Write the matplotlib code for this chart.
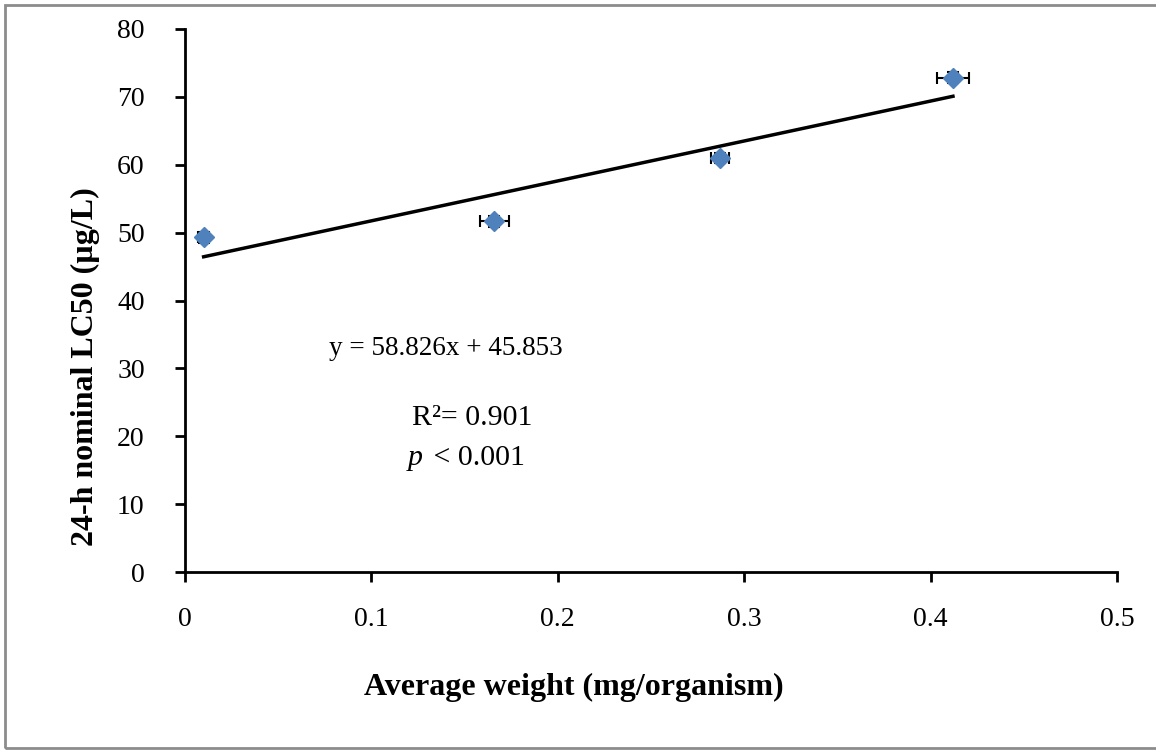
import numpy as np
import matplotlib.pyplot as plt
from matplotlib.patches import Rectangle

# data
weight = [0.010, 0.166, 0.287, 0.412]
lc50 = [49.3, 51.7, 61.0, 72.8]
weight_err = [0.003, 0.008, 0.005, 0.0085]
lc50_err = [0.8, 0.8, 0.8, 0.8]
slope, intercept = 58.826, 45.853

plt.rcParams['font.family'] = ['Liberation Serif', 'DejaVu Serif']

fig = plt.figure(figsize=(11.56, 7.5), dpi=100)
ax = fig.add_axes([185/1156, 1 - 572/750, (1117-185)/1156, (572-29)/750])

# outer frame
fig.patches.append(Rectangle((5/1156, 2/750), 1.2, 743/750, transform=fig.transFigure,
                             fill=False, edgecolor='#8c8c8c', linewidth=2))

ax.errorbar(weight, lc50, xerr=weight_err, yerr=lc50_err, fmt='D', color='#4F81BD',
            markersize=10, ecolor='black', elinewidth=1.5, capsize=4, capthick=1.5, zorder=3)

xfit = np.array([weight[0], weight[-1]])
ax.plot(xfit, slope * xfit + intercept, color='black', linewidth=2.5, zorder=2)

ax.set_xlim(0, 0.5)
ax.set_ylim(0, 80)
ax.set_xticks(np.arange(0, 0.51, 0.1))
ax.set_xticklabels(['0', '0.1', '0.2', '0.3', '0.4', '0.5'])
ax.set_yticks(np.arange(0, 81, 10))
for s in ['top', 'right']:
    ax.spines[s].set_visible(False)
for s in ['left', 'bottom']:
    ax.spines[s].set_linewidth(2)
ax.tick_params(width=2, length=7, labelsize=20)
ax.tick_params(axis='x', pad=18)
ax.tick_params(axis='y', pad=22)

ax.set_xlabel('Average weight (mg/organism)', fontsize=23, fontweight='bold', va='center')
ax.xaxis.set_label_coords(0.417, -0.212)
ax.set_ylabel('24-h nominal LC50 (µg/L)', fontsize=23, fontweight='bold', va='center')
ax.yaxis.set_label_coords(-0.107, 0.3775)

ax.text(0.140, 33.0, 'y = 58.826x + 45.853', fontsize=19.5, ha='center', va='center')
ax.text(0.154, 22.7, 'R²= 0.901', fontsize=21.5, ha='center', va='center')
ax.text(0.1295, 16.8, ' < 0.001', fontsize=21.5, ha='left', va='center')
ax.text(0.1275, 16.8, 'p', fontsize=21.5, style='italic', ha='right', va='center')

fig.savefig('out.png', dpi=100)
